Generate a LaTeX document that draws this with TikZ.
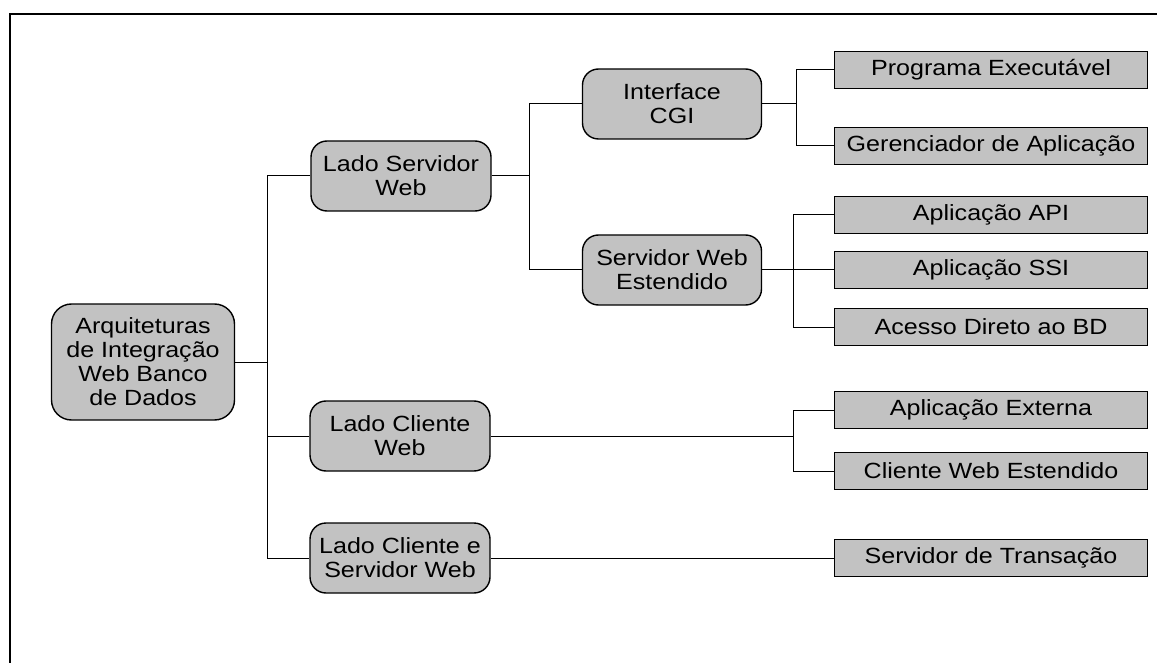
\documentclass[tikz,border=0pt]{standalone}
\usepackage{fontspec}
\setmainfont{Liberation Sans}[FakeStretch=1.14]
\usepackage{tikz}
\usetikzlibrary{positioning, calc}

\begin{document}
\begin{tikzpicture}[x=1pt, y=-1pt,
    caixa/.style={draw, line width=1.4pt, fill=black!24, rounded corners=16pt, align=center,
        inner sep=2pt, minimum width=180pt, minimum height=70pt, font=\fontsize{22}{24}\selectfont},
    folha/.style={draw, line width=1.4pt, fill=black!24, minimum width=313pt, minimum height=37pt,
        inner sep=1pt, font=\fontsize{22}{24}\selectfont},
    liga/.style={line width=1pt}]
    \useasboundingbox (0,0) rectangle (1157,663);

    % moldura
    \draw[line width=1.2pt] (1157,14) -- (10,14) -- (10,663);

    % raiz
    \node[caixa, minimum width=183pt, minimum height=116pt, rounded corners=20pt] (raiz) at (143,362)
        {Arquiteturas\\de Integração\\Web Banco\\de Dados};

    % nivel 1
    \node[caixa] (lsw) at (401,176) {Lado Servidor\\Web};
    \node[caixa] (lcw) at (400,436) {Lado Cliente\\Web};
    \node[caixa] (lcsw) at (400,558) {Lado Cliente e\\Servidor Web};

    % nivel 2
    \node[caixa, minimum width=179pt] (cgi) at (672,104) {Interface\\CGI};
    \node[caixa, minimum width=179pt] (swe) at (672,270) {Servidor Web\\Estendido};

    % folhas
    \foreach \nome/\y/\texto in {prog/70/Programa Executável, ger/146/Gerenciador de Aplicação,
        api/215/Aplicação API, ssi/270/Aplicação SSI, bd/327/Acesso Direto ao BD,
        ext/410/Aplicação Externa, cwe/471/Cliente Web Estendido, trans/558/Servidor de Transação} {
        \node[folha] (\nome) at (991,\y) {\texto};
    }

    % barramentos
    \coordinate (b1) at (267,0);
    \coordinate (b2) at (529,0);
    \coordinate (b3) at (796,0);
    \coordinate (b4) at (793,0);

    % ligacoes
    \draw[liga] (raiz.east) -- (raiz.east -| b1);
    \draw[liga] (lsw.west) -| (b1 |- lcsw.west) -- (lcsw.west);
    \draw[liga] (lcw.west) -- (lcw.west -| b1);

    \draw[liga] (lsw.east) -- (lsw.east -| b2);
    \draw[liga] (cgi.west) -| (b2 |- swe.west) -- (swe.west);

    \draw[liga] (cgi.east) -- (cgi.east -| b3);
    \draw[liga] (prog.west) -| (b3 |- ger.west) -- (ger.west);

    \draw[liga] (swe.east) -- (ssi.west);
    \draw[liga] (api.west) -| (b4 |- bd.west) -- (bd.west);

    \draw[liga] (lcw.east) -- (lcw.east -| b4);
    \draw[liga] (ext.west) -| (b4 |- cwe.west) -- (cwe.west);

    \draw[liga] (lcsw.east) -- (trans.west);
\end{tikzpicture}
\end{document}
